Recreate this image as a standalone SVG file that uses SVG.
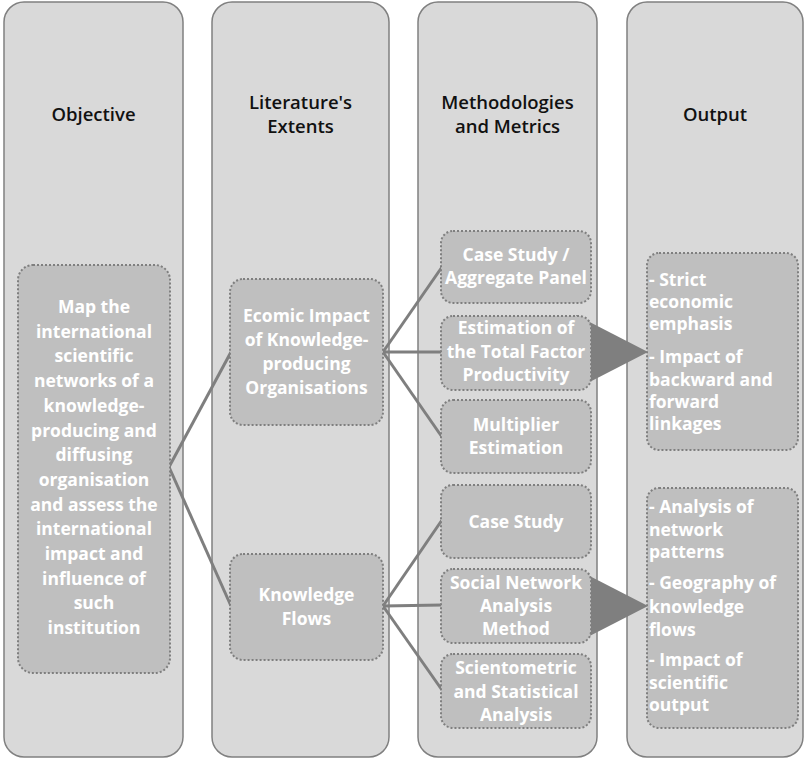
<svg xmlns="http://www.w3.org/2000/svg" width="805" height="760" viewBox="0 0 805 760">
<style>
.col{fill:#d9d9d9;stroke:#808080;stroke-width:1.5}
.node{fill:#bfbfbf;stroke:#7f7f7f;stroke-width:2;stroke-dasharray:2 2}
.hd{font-family:"Open Sans","Liberation Sans",sans-serif;font-size:18.5px;font-weight:600;fill:#111;text-anchor:middle}
.tx{font-family:"Open Sans","Liberation Sans",sans-serif;font-size:17.5px;font-weight:700;fill:#fff;text-anchor:middle}
.lt{font-family:"Open Sans","Liberation Sans",sans-serif;font-size:17.5px;font-weight:700;fill:#fff;text-anchor:start}
.cn{stroke:#7f7f7f;stroke-width:3;fill:none}
.arr{fill:#7f7f7f}
</style>
<rect width="805" height="760" fill="#fff"/>
<g id="columns">
<g id="col-objective"><rect class="col" x="4" y="2" width="179" height="755" rx="20"/><text class="hd" x="93.5" y="121">Objective</text></g>
<g id="col-literature"><rect class="col" x="212" y="2" width="177" height="755" rx="20"/><text class="hd" x="300.5" y="109">Literature's</text><text class="hd" x="300.5" y="133">Extents</text></g>
<g id="col-methods"><rect class="col" x="418" y="2" width="179" height="755" rx="20"/><text class="hd" x="507.5" y="109">Methodologies</text><text class="hd" x="507.5" y="133">and Metrics</text></g>
<g id="col-output"><rect class="col" x="627" y="2" width="176" height="755" rx="20"/><text class="hd" x="715" y="121">Output</text></g>
</g>
<g id="connectors">
<line class="cn" x1="169" y1="467" x2="231" y2="352"/>
<line class="cn" x1="169" y1="467" x2="231" y2="606"/>
<line class="cn" x1="383" y1="352" x2="442" y2="267"/>
<line class="cn" x1="383" y1="352" x2="442" y2="352" stroke="#666"/>
<line class="cn" x1="383" y1="352" x2="442" y2="437"/>
<line class="cn" x1="383" y1="606" x2="442" y2="520"/>
<line class="cn" x1="383" y1="606" x2="442" y2="605" stroke="#666"/>
<line class="cn" x1="383" y1="606" x2="442" y2="690"/>
<polygon class="arr" points="576,315 648,352 576,389"/>
<polygon class="arr" points="576,569 648,606 576,643"/>
</g>
<g id="objective">
<rect class="node" x="18" y="265" width="152" height="408" rx="15"/>
<text class="tx" x="94" y="313">Map the</text>
<text class="tx" x="94" y="337.7">international</text>
<text class="tx" x="94" y="362.4">scientific</text>
<text class="tx" x="94" y="387.1">networks of a</text>
<text class="tx" x="94" y="411.8">knowledge-</text>
<text class="tx" x="94" y="436.5">producing and</text>
<text class="tx" x="94" y="461.2">diffusing</text>
<text class="tx" x="94" y="485.9">organisation</text>
<text class="tx" x="94" y="510.6">and assess the</text>
<text class="tx" x="94" y="535.3">international</text>
<text class="tx" x="94" y="560">impact and</text>
<text class="tx" x="94" y="584.7">influence of</text>
<text class="tx" x="94" y="609.4">such</text>
<text class="tx" x="94" y="634.1">institution</text>
</g>
<g id="economic-impact">
<rect class="node" x="230" y="279" width="153" height="146" rx="13"/>
<text class="tx" x="306.5" y="322">Ecomic Impact</text>
<text class="tx" x="306.5" y="346">of Knowledge-</text>
<text class="tx" x="306.5" y="370">producing</text>
<text class="tx" x="306.5" y="394">Organisations</text>
</g>
<g id="knowledge-flows">
<rect class="node" x="230" y="554" width="153" height="106" rx="13"/>
<text class="tx" x="306.5" y="601">Knowledge</text>
<text class="tx" x="306.5" y="625">Flows</text>
</g>
<g id="case-study-aggregate">
<rect class="node" x="441" y="231" width="150" height="72" rx="12"/>
<text class="tx" x="516" y="261">Case Study /</text>
<text class="tx" x="516" y="284">Aggregate Panel</text>
</g>
<g id="estimation-tfp">
<rect class="node" x="441" y="316" width="150" height="74" rx="12"/>
<text class="tx" x="516" y="334">Estimation of</text>
<text class="tx" x="516" y="357.5">the Total Factor</text>
<text class="tx" x="516" y="381">Productivity</text>
</g>
<g id="multiplier">
<rect class="node" x="441" y="400" width="150" height="73" rx="12"/>
<text class="tx" x="516" y="431">Multiplier</text>
<text class="tx" x="516" y="454">Estimation</text>
</g>
<g id="case-study">
<rect class="node" x="441" y="485" width="150" height="73" rx="12"/>
<text class="tx" x="516" y="528">Case Study</text>
</g>
<g id="sna-method">
<rect class="node" x="441" y="569" width="150" height="74" rx="12"/>
<text class="tx" x="516" y="589">Social Network</text>
<text class="tx" x="516" y="612">Analysis</text>
<text class="tx" x="516" y="635">Method</text>
</g>
<g id="scientometric">
<rect class="node" x="441" y="654" width="150" height="74" rx="12"/>
<text class="tx" x="516" y="674">Scientometric</text>
<text class="tx" x="516" y="697.5">and Statistical</text>
<text class="tx" x="516" y="721">Analysis</text>
</g>
<g id="output-economic">
<rect class="node" x="647" y="253" width="151" height="197" rx="12"/>
<text class="lt" x="649" y="286">- Strict</text>
<text class="lt" x="649" y="308">economic</text>
<text class="lt" x="649" y="330">emphasis</text>
<text class="lt" x="649" y="363">- Impact of</text>
<text class="lt" x="649" y="385.5">backward and</text>
<text class="lt" x="649" y="408">forward</text>
<text class="lt" x="649" y="430">linkages</text>
</g>
<g id="output-knowledge">
<rect class="node" x="647" y="488" width="151" height="240" rx="12"/>
<text class="lt" x="649" y="513">- Analysis of</text>
<text class="lt" x="649" y="536">network</text>
<text class="lt" x="649" y="558">patterns</text>
<text class="lt" x="649" y="589">- Geography of</text>
<text class="lt" x="649" y="613">knowledge</text>
<text class="lt" x="649" y="636">flows</text>
<text class="lt" x="649" y="666">- Impact of</text>
<text class="lt" x="649" y="689">scientific</text>
<text class="lt" x="649" y="711">output</text>
</g>
</svg>
